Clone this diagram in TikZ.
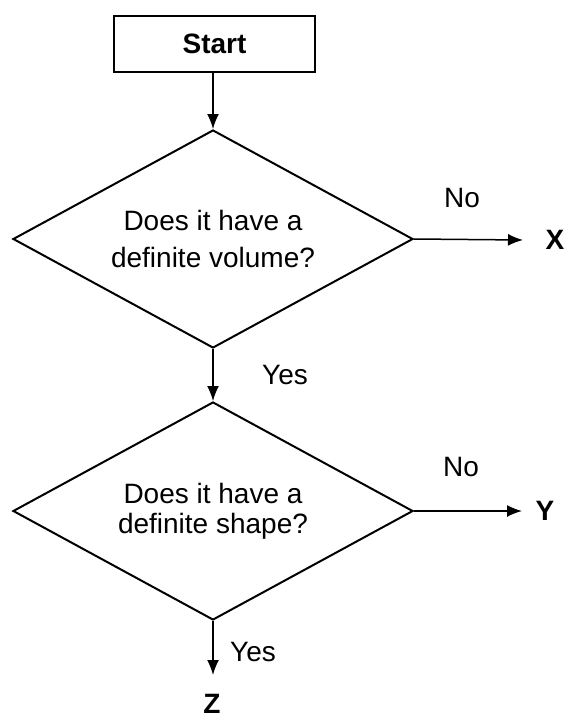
\documentclass[tikz,border=0pt]{standalone}
\usepackage{fontspec}
\setmainfont{Liberation Sans}
\usetikzlibrary{shapes.geometric,arrows.meta}
\begin{document}
\begin{tikzpicture}[x=1pt,y=-1pt,
  box/.style={draw,line width=2pt,rectangle,minimum width=201pt,minimum height=56pt,inner sep=0pt,font=\fontsize{28}{32}\selectfont\bfseries},
  dia/.style={draw,line width=2pt,diamond,shape aspect=1.83,minimum width=400pt,minimum height=218pt,inner sep=0pt,align=center},
  lbl/.style={font=\fontsize{28}{32}\selectfont,inner sep=0pt},
  blbl/.style={font=\fontsize{28}{32}\selectfont\bfseries,inner sep=0pt},
  arr/.style={line width=1.5pt,-{Latex[length=15pt,width=12pt]}}]
\fill[white] (0,0) rectangle (568,720);
\useasboundingbox (0,0) rectangle (568,720);
\node[box] (start) at (214.5,44) {Start};
\node[dia,font=\fontsize{28}{37}\selectfont] (d1) at (213,239) {Does it have a\\definite volume?};
\node[dia,font=\fontsize{28}{30}\selectfont] (d2) at (213,511) {Does it have a\\definite shape?};
\node[blbl] (x) at (555,240) {X};
\node[blbl] (y) at (545,511) {Y};
\node[blbl] (z) at (212,704) {Z};
\coordinate (xe) at (523,240);
\coordinate (ye) at (522,511);
\coordinate (ze) at (213,675);
\draw[arr] (start.south -| d1.north) -- (d1.north);
\draw[arr] (d1.south) -- (d2.north);
\draw[arr] (d2.south) -- (ze);
\draw[arr] (d1.east) -- (xe);
\draw[arr] (d2.east) -- (ye);
\node[lbl] (no1) at (462,198) {No};
\node[lbl] (no2) at (461,467) {No};
\node[lbl] (yes1) at (285,375) {Yes};
\node[lbl] (yes2) at (253,652) {Yes};
\end{tikzpicture}
\end{document}
